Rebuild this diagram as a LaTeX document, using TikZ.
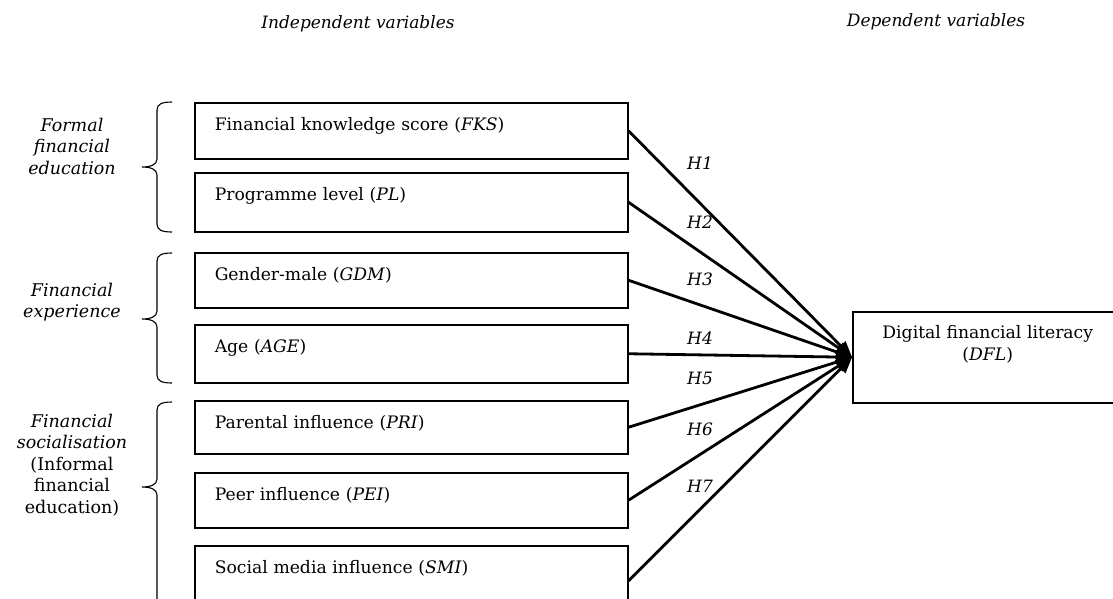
\documentclass[tikz,border=0pt]{standalone}
\usepackage{fontspec}
\setmainfont{DejaVu Serif}
\usetikzlibrary{arrows,shapes}

\begin{document}
\begin{tikzpicture}
  [x=1pt,y=-1pt,
   every node/.style={font=\fontsize{17.2}{21.5}\selectfont},
   var/.style={draw,line width=1.5pt,anchor=north west,minimum width=433,
     text width=393,inner xsep=20,inner ysep=0,align=left,text height=28},
   grp/.style={align=center,font=\fontsize{17.5}{21.5}\selectfont\itshape},
   hyp/.style={font=\fontsize{17}{21}\selectfont\itshape},
   head/.style={font=\fontsize{17}{21}\selectfont\itshape},
   curly/.style={line width=1.1pt},
   link/.style={line width=2.8pt,arrows={-{triangle 45}}}]
  \useasboundingbox (0,0) rectangle (1113,598);

  \node[head] (indep) at (358,24) {Independent variables};
  \node[head] (dep) at (936,22) {Dependent variables};

  \node[var,text depth=28] (fks) at (194,102) {Financial knowledge score (\textit{FKS})};
  \node[var,text depth=31] (pl) at (194,172) {Programme level (\textit{PL})};
  \node[var,text depth=27] (gdm) at (194,252) {Gender-male (\textit{GDM})};
  \node[var,text depth=30] (age) at (194,324) {Age (\textit{AGE})};
  \node[var,text depth=25] (pri) at (194,400) {Parental influence (\textit{PRI})};
  \node[var,text depth=27] (pei) at (194,472) {Peer influence (\textit{PEI})};
  \node[var,text depth=42] (smi) at (194,545) {Social media influence (\textit{SMI})};

  \node[draw,line width=1.5pt,anchor=north west,minimum width=270,text width=250,
    inner sep=0,align=center,text height=27,text depth=64] (dfl) at (852,311)
    {Digital financial literacy\\(\textit{DFL})};

  % group labels and braces
  \node[grp] (ffe) at (72,146) {Formal\\financial\\education};
  \node[grp] (fex) at (72,302) {Financial\\experience};
  \node[grp] (fso) at (72,465) {Financial\\socialisation\\\upshape(Informal\\\upshape financial\\\upshape education)};
  \draw[curly] (172,102) .. controls (162,102) and (157,104) .. (157,110) -- (157,159)
    .. controls (157,165) and (150,167) .. (142,167) .. controls (150,167) and (157,169) .. (157,175)
    -- (157,224) .. controls (157,230) and (162,232) .. (172,232);
  \draw[curly] (172,253) .. controls (162,253) and (157,255) .. (157,261) -- (157,311)
    .. controls (157,317) and (150,319) .. (142,319) .. controls (150,319) and (157,321) .. (157,327)
    -- (157,375) .. controls (157,381) and (162,383) .. (172,383);
  \draw[curly] (172,402) .. controls (162,402) and (157,404) .. (157,410) -- (157,479)
    .. controls (157,485) and (150,487) .. (142,487) .. controls (150,487) and (157,489) .. (157,495)
    -- (157,610);

  \draw[link] (fks.east) to (dfl.west);
  \draw[link] (pl.east) to (dfl.west);
  \draw[link] (gdm.east) to (dfl.west);
  \draw[link] (age.east) to (dfl.west);
  \draw[link] (pri.east) to (dfl.west);
  \draw[link] (pei.east) to (dfl.west);
  \draw[link] (smi.east) to (dfl.west);

  \node[hyp] (h1) at (700,163) {H1};
  \node[hyp] (h2) at (700,222) {H2};
  \node[hyp] (h3) at (700,279) {H3};
  \node[hyp] (h4) at (700,338) {H4};
  \node[hyp] (h5) at (700,378) {H5};
  \node[hyp] (h6) at (700,429) {H6};
  \node[hyp] (h7) at (700,486) {H7};
\end{tikzpicture}
\end{document}
